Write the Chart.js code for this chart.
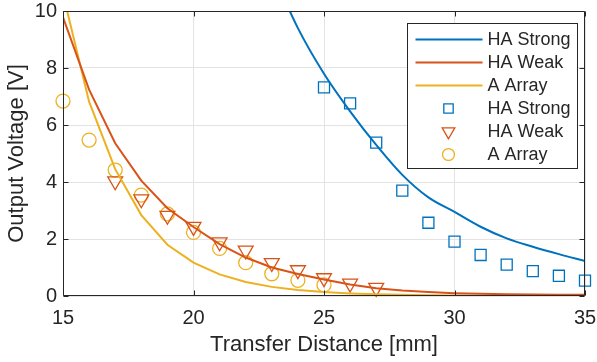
<!DOCTYPE html>
<html>
<head>
<meta charset="utf-8">
<script src="https://cdn.jsdelivr.net/npm/chart.js@4.4.0/dist/chart.umd.min.js"></script>
<style>
    html, body { margin: 0; padding: 0; background: #fff; }
    #wrap { width: 597px; height: 362px; }
</style>
</head>
<body>
<div id="wrap"><canvas id="chart" width="597" height="362"></canvas></div>
<script>
    // fitted curves (integer distances)
    var fitDistance = [15, 16, 17, 18, 19, 20, 21, 22, 23, 24, 25, 26, 27, 28, 29, 30, 31, 32, 33, 34, 35];
    var strongFitDistance = [23, 24, 25, 26, 27, 28, 29, 30, 31, 32, 33, 34, 35];
    var strongFit = [11.4, 9.4, 7.8, 6.48, 5.3, 4.25, 3.46, 2.95, 2.43, 2.02, 1.73, 1.47, 1.23];
    var weakFit = [9.78, 7.24, 5.36, 4.05, 3.08, 2.42, 1.82, 1.35, 1.0, 0.77, 0.58, 0.4, 0.27, 0.19, 0.14, 0.1, 0.08, 0.06, 0.05, 0.04, 0.04];
    var arrayFit = [10.6, 6.82, 4.45, 2.84, 1.8, 1.17, 0.76, 0.49, 0.32, 0.21, 0.14, 0.09, 0.06, 0.04, 0.03, 0.02, 0.01, 0.01, 0.01, 0.01, 0.01];

    // measured points
    var strongMeasDistance = [25, 26, 27, 28, 29, 30, 31, 32, 33, 34, 35];
    var strongMeas = [7.32, 6.76, 5.38, 3.7, 2.57, 1.91, 1.44, 1.1, 0.87, 0.71, 0.54];
    var weakMeasDistance = [17, 18, 19, 20, 21, 22, 23, 24, 25, 26, 27];
    var weakMeas = [4.03, 3.4, 2.82, 2.43, 1.89, 1.6, 1.16, 0.91, 0.63, 0.44, 0.29];
    var arrayMeasDistance = [15, 16, 17, 18, 19, 20, 21, 22, 23, 24, 25];
    var arrayMeas = [6.84, 5.47, 4.42, 3.54, 2.88, 2.23, 1.67, 1.17, 0.78, 0.55, 0.39];

    var xTicks = [15, 20, 25, 30, 35];
    var yTicks = [0, 2, 4, 6, 8, 10];

    var blue = '#0072BD';
    var orange = '#D95319';
    var yellow = '#EDB120';
    var textColor = '#262626';
    var fontFamily = "'Liberation Sans', Arial, sans-serif";

    function toPoints(xs, ys) {
        return xs.map(function (x, i) {
            return {x: x, y: ys[i]};
        });
    }

    function fitSet(label, xs, ys, color, smooth) {
        var ds = {
            label: label, data: toPoints(xs, ys),
            borderColor: color, backgroundColor: color,
            borderWidth: 2, pointRadius: 0, showLine: true, tension: 0
        };
        if (smooth) {
            ds.cubicInterpolationMode = 'monotone';
        }
        return ds;
    }

    function measSet(label, xs, ys, color, style, radius, rotation) {
        return {
            label: label, data: toPoints(xs, ys),
            borderColor: color, backgroundColor: 'rgba(0,0,0,0)',
            showLine: false, pointStyle: style, pointRadius: radius,
            pointRotation: rotation, pointBorderWidth: 1.3, clip: false
        };
    }

    var framePlugin = {
        id: 'frame',
        afterDatasetsDraw: function (chart) {
            var a = chart.chartArea;
            var ctx = chart.ctx;
            var xs = chart.scales.x, ys = chart.scales.y;
            var l = Math.round(a.left) + 0.5, r = Math.round(a.right) - 0.5;
            var t = Math.round(a.top) + 0.5, b = Math.round(a.bottom) - 0.5;
            ctx.save();
            ctx.strokeStyle = textColor;
            ctx.lineWidth = 1;
            ctx.beginPath();
            ctx.rect(l, t, r - l, b - t);
            xTicks.forEach(function (v) {
                var px = Math.round(xs.getPixelForValue(v)) + 0.5;
                ctx.moveTo(px, b); ctx.lineTo(px, b - 5);
                ctx.moveTo(px, t); ctx.lineTo(px, t + 5);
            });
            yTicks.forEach(function (v) {
                var py = Math.round(ys.getPixelForValue(v)) + 0.5;
                ctx.moveTo(l, py); ctx.lineTo(l + 5, py);
                ctx.moveTo(r, py); ctx.lineTo(r - 5, py);
            });
            ctx.stroke();
            ctx.restore();
        }
    };

    var boxLegendPlugin = {
        id: 'boxLegend',
        afterDraw: function (chart) {
            var a = chart.chartArea;
            var ctx = chart.ctx;
            var sets = chart.data.datasets;
            var rowH = 23;
            var w = 170, h = 145;
            var bx = Math.round(a.right - 8 - w) + 0.5;
            var by = Math.round(a.top + 12) + 0.5;
            ctx.save();
            ctx.fillStyle = '#fff';
            ctx.strokeStyle = textColor;
            ctx.lineWidth = 1;
            ctx.fillRect(bx, by, w, h);
            ctx.strokeRect(bx, by, w, h);
            ctx.font = '18px ' + fontFamily;
            ctx.textBaseline = 'middle';
            ctx.textAlign = 'left';
            sets.forEach(function (ds, i) {
                var cy = by + 16 + i * rowH;
                if (ds.showLine) {
                    ctx.strokeStyle = ds.borderColor;
                    ctx.lineWidth = 2;
                    ctx.beginPath();
                    ctx.moveTo(bx + 8, cy);
                    ctx.lineTo(bx + 75, cy);
                    ctx.stroke();
                } else {
                    ctx.strokeStyle = ds.borderColor;
                    ctx.fillStyle = 'rgba(0,0,0,0)';
                    ctx.lineWidth = ds.pointBorderWidth;
                    Chart.helpers.drawPoint(ctx, {
                        pointStyle: ds.pointStyle,
                        radius: ds.pointRadius * 0.85,
                        rotation: ds.pointRotation,
                        borderWidth: ds.pointBorderWidth
                    }, bx + 41, cy);
                }
                ctx.fillStyle = textColor;
                ctx.fillText(ds.label, bx + 80, cy + 1);
            });
            ctx.restore();
        }
    };

    var ctx = document.getElementById('chart');
    new Chart(ctx, {
        type: 'line',
        data: {
            datasets: [
                fitSet('HA Strong', strongFitDistance, strongFit, blue, true),
                fitSet('HA Weak', fitDistance, weakFit, orange, false),
                fitSet('A Array', fitDistance, arrayFit, yellow, false),
                measSet('HA Strong', strongMeasDistance, strongMeas, blue, 'rect', 7.8, 0),
                measSet('HA Weak', weakMeasDistance, weakMeas, orange, 'triangle', 8.6, 180),
                measSet('A Array', arrayMeasDistance, arrayMeas, yellow, 'circle', 7, 0)
            ]
        },
        options: {
            responsive: false,
            devicePixelRatio: 1,
            animation: false,
            layout: {padding: {top: 11, right: 12, bottom: 4, left: 0}},
            plugins: {
                legend: {display: false},
                tooltip: {enabled: false}
            },
            scales: {
                x: {
                    type: 'linear', min: 15, max: 35,
                    afterBuildTicks: function (s) {
                        s.ticks = xTicks.map(function (v) { return {value: v}; });
                    },
                    afterFit: function (s) {
                        s.height = 62;
                        s.paddingLeft = 0;
                        s.paddingRight = 0;
                    },
                    ticks: {color: textColor, font: {size: 20, family: fontFamily}, padding: 10, maxRotation: 0},
                    grid: {color: '#e3e3e3', drawTicks: false},
                    border: {display: false},
                    title: {display: true, text: 'Transfer Distance [mm]', color: textColor,
                        font: {size: 22, family: fontFamily}, padding: 0}
                },
                y: {
                    type: 'linear', min: 0, max: 10,
                    afterBuildTicks: function (s) {
                        s.ticks = yTicks.map(function (v) { return {value: v}; });
                    },
                    afterFit: function (s) {
                        s.width = 63;
                        s.paddingTop = 0;
                        s.paddingBottom = 0;
                    },
                    ticks: {color: textColor, font: {size: 20, family: fontFamily}, padding: 6},
                    grid: {color: '#e3e3e3', drawTicks: false},
                    border: {display: false},
                    title: {display: true, text: 'Output Voltage [V]', color: textColor,
                        font: {size: 22, family: fontFamily}, padding: {top: 4, bottom: 0}}
                }
            }
        },
        plugins: [framePlugin, boxLegendPlugin]
    });
</script>
</body>
</html>
